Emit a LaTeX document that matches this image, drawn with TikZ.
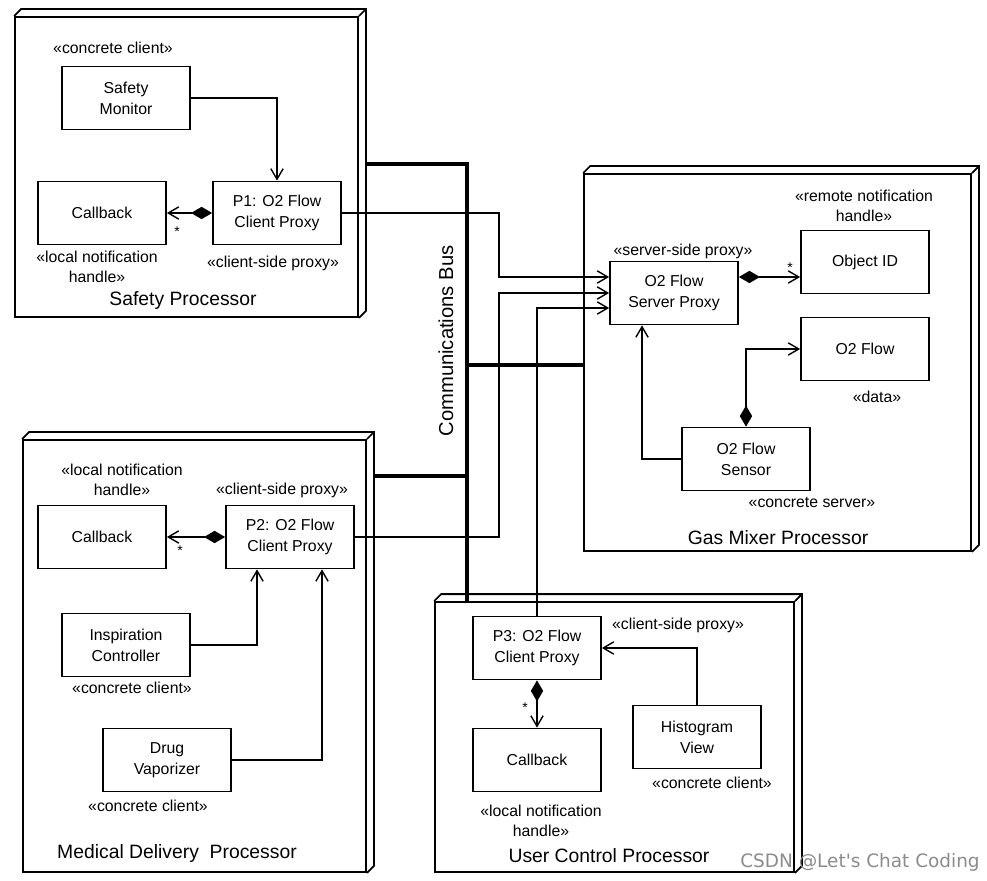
\documentclass[tikz,border=0pt]{standalone}
\usepackage{fontspec}
\setmainfont{Liberation Sans}
\newfontfamily\wmfont{DejaVu Sans}
\usetikzlibrary{arrows.meta,calc,fit}
\tikzset{
  proc/.style={draw, line width=1pt, inner sep=0pt, fill=white},
  part/.style={draw, line width=1pt, minimum width=2.56cm, minimum height=1.26cm, align=center, inner sep=0pt, font=\fontsize{9}{12}\selectfont},
  stereo/.style={align=center, inner sep=0pt, font=\fontsize{9}{11.5}\selectfont},
  ptitle/.style={inner sep=0pt, font=\fontsize{11}{13}\selectfont},
  mult/.style={inner sep=0pt, font=\fontsize{8}{8}\selectfont},
  conn/.style={line width=0.8pt, -{Straight Barb[length=6pt,width=7pt]}},
  comp/.style={line width=0.8pt, {Diamond[length=12pt,width=7pt]}-{Straight Barb[length=6pt,width=7pt]}},
  bus/.style={line width=2.4pt}
}
\newcommand\procdepth[1]{\draw[line width=1pt] (#1.north west) -- ++(7,-7) -| ($(#1.south east)+(7,-7)$) -- (#1.south east) (#1.north east) -- ++(7,-7);}
\begin{document}
\begin{tikzpicture}[x=0.02cm, y=-0.02cm]
\fill[white] (0,0) rectangle (987,881);
\useasboundingbox (0,0) rectangle (987,881);
\node[proc, fit={(15,17) (358,317)}] (safety) {};
\node[proc, fit={(584,174) (971,551)}] (gas) {};
\node[proc, fit={(23,440) (366,872)}] (med) {};
\node[proc, fit={(435,602) (794,872)}] (ucp) {};
\procdepth{safety}
\procdepth{gas}
\procdepth{med}
\procdepth{ucp}
\node[ptitle] (safetyttl) at (183,301) {Safety Processor};
\node[ptitle] (gasttl) at (778,538) {Gas Mixer Processor};
\node[ptitle] (medttl) at (177,853) {Medical Delivery\ \ Processor};
\node[ptitle] (ucpttl) at (609,856) {User Control Processor};
\node[part] (sm) at (126,98) {Safety\\Monitor};
\node[part] (cb1) at (102,213) {Callback};
\node[part] (p1) at (277,213) {P1: O2 Flow\\Client Proxy};
\node[stereo] (sm st) at (113,48) {«concrete client»};
\node[stereo] (cb1 st) at (97,267) {«local notification\\handle»};
\node[stereo] (p1 st) at (273,263) {«client-side proxy»};
\node[mult] (cb1 m) at (177,232) {*};
\node[part] (sp) at (674,293) {O2 Flow\\Server Proxy};
\node[part] (oid) at (865,262) {Object ID};
\node[part] (o2f) at (865,349) {O2 Flow};
\node[part] (sensor) at (746,459) {O2 Flow\\Sensor};
\node[stereo] (sp st) at (683,251) {«server-side proxy»};
\node[stereo] (oid st) at (864,206) {«remote notification\\handle»};
\node[stereo] (o2f st) at (877,397) {«data»};
\node[stereo] (sensor st) at (812,502) {«concrete server»};
\node[mult] (oid m) at (790,268) {*};
\node[part] (cb2) at (102,537) {Callback};
\node[part] (p2) at (290,537) {P2: O2 Flow\\Client Proxy};
\node[part] (ic) at (126,645) {Inspiration\\Controller};
\node[part] (dv) at (167,760) {Drug\\Vaporizer};
\node[stereo] (cb2 st) at (122,480) {«local notification\\handle»};
\node[stereo] (p2 st) at (282,490) {«client-side proxy»};
\node[stereo] (ic st) at (132,688) {«concrete client»};
\node[stereo] (dv st) at (148,806) {«concrete client»};
\node[mult] (cb2 m) at (180,551) {*};
\node[part] (p3) at (537,648) {P3: O2 Flow\\Client Proxy};
\node[part] (cb3) at (537,760) {Callback};
\node[part] (hv) at (697,737) {Histogram\\View};
\node[stereo] (p3 st) at (678,625) {«client-side proxy»};
\node[stereo] (hv st) at (712,783) {«concrete client»};
\node[stereo] (cb3 st) at (541,821) {«local notification\\handle»};
\node[mult] (cb3 m) at (525,708) {*};
\coordinate (bus1) at (467,164);
\coordinate (bus2) at (467,365);
\coordinate (bus3) at (467,476);
\coordinate (jog) at (499,0);
\coordinate (in1) at ($(sp.west)+(0,-16)$);
\coordinate (in2) at (sp.west);
\coordinate (in3) at ($(sp.west)+(0,15)$);
\draw[bus] ($(safety.east |- bus1)+(7,0)$) -- (bus1) -- (bus1 |- ucp.north);
\draw[bus] (bus2) -- (bus2 -| gas.west);
\draw[bus] ($(med.east |- bus3)+(7,0)$) -- (bus3);
\node[rotate=90, inner sep=0pt, font=\fontsize{11.5}{13}\selectfont] (buslbl) at (446,341) {Communications Bus};
\draw[conn] (sm.east) -| (p1.north);
\draw[comp] (p1.west) -- (cb1.east);
\draw[conn] (p1.east) -| (jog |- in1) -- (in1);
\draw[conn] (p2.east) -| (jog |- in2) -- (in2);
\draw[conn] (p3.north) |- (in3);
\draw[comp] (sp.east |- in1) -- (oid.west |- in1);
\draw[comp] (sensor.north) |- (o2f.west);
\draw[conn] (sensor.west) -| ($(sp.south)+(-32,0)$);
\draw[comp] (p2.west) -- (cb2.east);
\draw[conn] (ic.east) -| ($(p2.south)+(-33,0)$);
\draw[conn] (dv.east) -| ($(p2.south)+(32,0)$);
\draw[comp] (p3.south) -- (cb3.north);
\draw[conn] (hv.north) |- (p3.east);
\node[inner sep=0pt, text=black!45, font=\wmfont\fontsize{10.5}{12}\selectfont] (wm) at (860,862) {CSDN @Let's Chat Coding};
\end{tikzpicture}
\end{document}
